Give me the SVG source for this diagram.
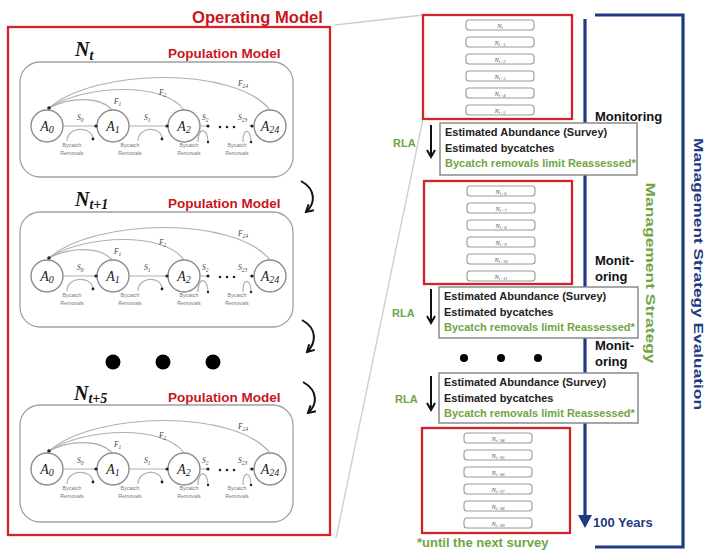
<svg xmlns="http://www.w3.org/2000/svg" width="707" height="550" viewBox="0 0 707 550">
<defs>
<style>
.redbox{fill:none;stroke:#d2232a;stroke-width:2.3}
.redtitle{font-family:"Liberation Sans",Arial,sans-serif;font-weight:bold;fill:#c8161e}
.pmframe{fill:#fff;stroke:#a0a0a0;stroke-width:1.3}
.age{fill:#fff;stroke:#8c8c8c;stroke-width:1.4}
.arc{fill:none;stroke:#b0b0b0;stroke-width:1.2}
.dot{fill:#222}
.alabel{font-family:"Liberation Serif",serif;font-style:italic;font-size:14px;fill:#222}
.small{font-family:"Liberation Serif",serif;font-style:italic;font-size:7.5px;fill:#444}
.byc{font-family:"Liberation Sans",Arial,sans-serif;font-size:5.3px;fill:#777}
.nlabel{font-family:"Liberation Serif",serif;font-style:italic;font-weight:bold;font-size:20px;fill:#111}
.bend{fill:none;stroke:#111;stroke-width:2}
.bigdot{fill:#000}
.nbox{fill:#fff;stroke:#9a9a9a;stroke-width:1.1}
.ntext{font-family:"Liberation Serif",serif;font-style:italic;font-size:6.5px;fill:#555}
.rlabox{fill:#fff;stroke:#8a8a8a;stroke-width:1.5}
.rlat{font-family:"Liberation Sans",Arial,sans-serif;font-weight:bold;font-size:11px;fill:#222}
.navyline{fill:none;stroke:#1f3a82;stroke-width:3.2}
.ghost{fill:none;stroke:#cfcfcf;stroke-width:1.4}
.mon{font-family:"Liberation Sans",Arial,sans-serif;font-weight:bold;font-size:13px;fill:#111}
.green{fill:#6fa542}
.navy{fill:#1f3a82}
</style>
<marker id="chev" viewBox="0 0 10 10" refX="8" refY="5" markerWidth="5" markerHeight="5" orient="auto">
<path d="M1,1 L8,5 L1,9" fill="none" stroke="#111" stroke-width="2"/>
</marker>
</defs>
<rect x="0" y="0" width="707" height="550" fill="#fff"/>

<!-- zoom guide lines -->
<g id="guides">
<line class="ghost" x1="335" y1="25" x2="423" y2="15"/>
<line class="ghost" x1="336" y1="538" x2="423" y2="119"/>
</g>

<!-- Operating model frame -->
<g id="operating-model">
<rect class="redbox" x="8" y="27" width="322" height="508"/>
<text class="redtitle" x="192" y="23" font-size="16.6">Operating Model</text>
</g>

<!-- Population model N_t -->
<g id="pop-model-t">
<text class="nlabel" x="75" y="56">N<tspan font-size="14" dy="4">t</tspan></text>
<text class="redtitle" x="168" y="58" font-size="13.5">Population Model</text>
<rect class="pmframe" x="20" y="62" width="273" height="115" rx="20"/>
<path class="arc" d="M49,108 C70,97 100,96 112,110"/>
<path class="arc" d="M49,108 C85,84 165,82 184,110"/>
<path class="arc" d="M49,108 C95,68 235,66 270,110"/>
<circle class="dot" cx="49" cy="108" r="1.8"/>
<text class="small" x="114" y="104">F<tspan font-size="5.5" dy="2">1</tspan></text>
<text class="small" x="159" y="95">F<tspan font-size="5.5" dy="2">2</tspan></text>
<text class="small" x="238" y="86">F<tspan font-size="5.5" dy="2">24</tspan></text>
<circle class="age" cx="47" cy="126" r="16"/>
<circle class="age" cx="113" cy="126" r="16"/>
<circle class="age" cx="184" cy="126" r="16"/>
<circle class="age" cx="270" cy="126" r="16"/>
<text class="alabel" x="47" y="131" text-anchor="middle">A<tspan font-size="10" dy="2">0</tspan></text>
<text class="alabel" x="113" y="131" text-anchor="middle">A<tspan font-size="10" dy="2">1</tspan></text>
<text class="alabel" x="184" y="131" text-anchor="middle">A<tspan font-size="10" dy="2">2</tspan></text>
<text class="alabel" x="270" y="131" text-anchor="middle">A<tspan font-size="10" dy="2">24</tspan></text>
<path class="arc" d="M63,126 H96 M129,126 H167 M200,126 H208 M249,126 H254"/>
<circle class="dot" cx="96" cy="126" r="1.6"/>
<circle class="dot" cx="167" cy="126" r="1.6"/>
<circle class="dot" cx="208" cy="126" r="1.6"/>
<circle class="dot" cx="252" cy="126" r="1.6"/>
<text class="small" x="77" y="120">S<tspan font-size="5.5" dy="2">0</tspan></text>
<text class="small" x="144" y="120">S<tspan font-size="5.5" dy="2">1</tspan></text>
<text class="small" x="202" y="120">S<tspan font-size="5.5" dy="2">2</tspan></text>
<text class="small" x="238" y="120">S<tspan font-size="5.5" dy="2">23</tspan></text>
<circle class="dot" cx="220" cy="127" r="1.3"/><circle class="dot" cx="227" cy="127" r="1.3"/><circle class="dot" cx="234" cy="127" r="1.3"/>
<path class="arc" d="M67,141 C67,127 90,125 93,138 M138,141 C138,127 160,125 162,138 M198,142 C198,127 207,127 208,141 M243,142 C243,128 250,128 251,141"/>
<circle class="dot" cx="93" cy="139" r="1.4"/>
<circle class="dot" cx="162" cy="139" r="1.4"/>
<circle class="dot" cx="208" cy="142" r="1.2"/>
<circle class="dot" cx="251" cy="142" r="1.2"/>
<text class="byc" x="72" y="147" text-anchor="middle">Bycatch</text><text class="byc" x="72" y="155" text-anchor="middle">Removals</text>
<text class="byc" x="130" y="147" text-anchor="middle">Bycatch</text><text class="byc" x="130" y="155" text-anchor="middle">Removals</text>
<text class="byc" x="189" y="147" text-anchor="middle">Bycatch</text><text class="byc" x="189" y="155" text-anchor="middle">Removals</text>
<text class="byc" x="237" y="147" text-anchor="middle">Bycatch</text><text class="byc" x="237" y="155" text-anchor="middle">Removals</text>
</g>

<!-- Population model N_t+1 -->
<g id="pop-model-t1" transform="translate(0,150)">
<text class="nlabel" x="75" y="56">N<tspan font-size="14" dy="3">t+1</tspan></text>
<text class="redtitle" x="168" y="58" font-size="13.5">Population Model</text>
<rect class="pmframe" x="20" y="62" width="273" height="115" rx="20"/>
<path class="arc" d="M49,108 C70,97 100,96 112,110"/>
<path class="arc" d="M49,108 C85,84 165,82 184,110"/>
<path class="arc" d="M49,108 C95,68 235,66 270,110"/>
<circle class="dot" cx="49" cy="108" r="1.8"/>
<text class="small" x="114" y="104">F<tspan font-size="5.5" dy="2">1</tspan></text>
<text class="small" x="159" y="95">F<tspan font-size="5.5" dy="2">2</tspan></text>
<text class="small" x="238" y="86">F<tspan font-size="5.5" dy="2">24</tspan></text>
<circle class="age" cx="47" cy="126" r="16"/>
<circle class="age" cx="113" cy="126" r="16"/>
<circle class="age" cx="184" cy="126" r="16"/>
<circle class="age" cx="270" cy="126" r="16"/>
<text class="alabel" x="47" y="131" text-anchor="middle">A<tspan font-size="10" dy="2">0</tspan></text>
<text class="alabel" x="113" y="131" text-anchor="middle">A<tspan font-size="10" dy="2">1</tspan></text>
<text class="alabel" x="184" y="131" text-anchor="middle">A<tspan font-size="10" dy="2">2</tspan></text>
<text class="alabel" x="270" y="131" text-anchor="middle">A<tspan font-size="10" dy="2">24</tspan></text>
<path class="arc" d="M63,126 H96 M129,126 H167 M200,126 H208 M249,126 H254"/>
<circle class="dot" cx="96" cy="126" r="1.6"/>
<circle class="dot" cx="167" cy="126" r="1.6"/>
<circle class="dot" cx="208" cy="126" r="1.6"/>
<circle class="dot" cx="252" cy="126" r="1.6"/>
<text class="small" x="77" y="120">S<tspan font-size="5.5" dy="2">0</tspan></text>
<text class="small" x="144" y="120">S<tspan font-size="5.5" dy="2">1</tspan></text>
<text class="small" x="202" y="120">S<tspan font-size="5.5" dy="2">2</tspan></text>
<text class="small" x="238" y="120">S<tspan font-size="5.5" dy="2">23</tspan></text>
<circle class="dot" cx="220" cy="127" r="1.3"/><circle class="dot" cx="227" cy="127" r="1.3"/><circle class="dot" cx="234" cy="127" r="1.3"/>
<path class="arc" d="M67,141 C67,127 90,125 93,138 M138,141 C138,127 160,125 162,138 M198,142 C198,127 207,127 208,141 M243,142 C243,128 250,128 251,141"/>
<circle class="dot" cx="93" cy="139" r="1.4"/>
<circle class="dot" cx="162" cy="139" r="1.4"/>
<circle class="dot" cx="208" cy="142" r="1.2"/>
<circle class="dot" cx="251" cy="142" r="1.2"/>
<text class="byc" x="72" y="147" text-anchor="middle">Bycatch</text><text class="byc" x="72" y="155" text-anchor="middle">Removals</text>
<text class="byc" x="130" y="147" text-anchor="middle">Bycatch</text><text class="byc" x="130" y="155" text-anchor="middle">Removals</text>
<text class="byc" x="189" y="147" text-anchor="middle">Bycatch</text><text class="byc" x="189" y="155" text-anchor="middle">Removals</text>
<text class="byc" x="237" y="147" text-anchor="middle">Bycatch</text><text class="byc" x="237" y="155" text-anchor="middle">Removals</text>
</g>

<!-- Population model N_t+5 -->
<g id="pop-model-t5" transform="translate(0,343)">
<text class="nlabel" x="74" y="57">N<tspan font-size="14" dy="3">t+5</tspan></text>
<text class="redtitle" x="168" y="59" font-size="13.5">Population Model</text>
<rect class="pmframe" x="20" y="62" width="273" height="117" rx="20"/>
<path class="arc" d="M49,108 C70,97 100,96 112,110"/>
<path class="arc" d="M49,108 C85,84 165,82 184,110"/>
<path class="arc" d="M49,108 C95,68 235,66 270,110"/>
<circle class="dot" cx="49" cy="108" r="1.8"/>
<text class="small" x="114" y="104">F<tspan font-size="5.5" dy="2">1</tspan></text>
<text class="small" x="159" y="95">F<tspan font-size="5.5" dy="2">2</tspan></text>
<text class="small" x="238" y="86">F<tspan font-size="5.5" dy="2">24</tspan></text>
<circle class="age" cx="47" cy="126" r="16"/>
<circle class="age" cx="113" cy="126" r="16"/>
<circle class="age" cx="184" cy="126" r="16"/>
<circle class="age" cx="270" cy="126" r="16"/>
<text class="alabel" x="47" y="131" text-anchor="middle">A<tspan font-size="10" dy="2">0</tspan></text>
<text class="alabel" x="113" y="131" text-anchor="middle">A<tspan font-size="10" dy="2">1</tspan></text>
<text class="alabel" x="184" y="131" text-anchor="middle">A<tspan font-size="10" dy="2">2</tspan></text>
<text class="alabel" x="270" y="131" text-anchor="middle">A<tspan font-size="10" dy="2">24</tspan></text>
<path class="arc" d="M63,126 H96 M129,126 H167 M200,126 H208 M249,126 H254"/>
<circle class="dot" cx="96" cy="126" r="1.6"/>
<circle class="dot" cx="167" cy="126" r="1.6"/>
<circle class="dot" cx="208" cy="126" r="1.6"/>
<circle class="dot" cx="252" cy="126" r="1.6"/>
<text class="small" x="77" y="120">S<tspan font-size="5.5" dy="2">0</tspan></text>
<text class="small" x="144" y="120">S<tspan font-size="5.5" dy="2">1</tspan></text>
<text class="small" x="202" y="120">S<tspan font-size="5.5" dy="2">2</tspan></text>
<text class="small" x="238" y="120">S<tspan font-size="5.5" dy="2">23</tspan></text>
<circle class="dot" cx="220" cy="127" r="1.3"/><circle class="dot" cx="227" cy="127" r="1.3"/><circle class="dot" cx="234" cy="127" r="1.3"/>
<path class="arc" d="M67,141 C67,127 90,125 93,138 M138,141 C138,127 160,125 162,138 M198,142 C198,127 207,127 208,141 M243,142 C243,128 250,128 251,141"/>
<circle class="dot" cx="93" cy="139" r="1.4"/>
<circle class="dot" cx="162" cy="139" r="1.4"/>
<circle class="dot" cx="208" cy="142" r="1.2"/>
<circle class="dot" cx="251" cy="142" r="1.2"/>
<text class="byc" x="72" y="147" text-anchor="middle">Bycatch</text><text class="byc" x="72" y="155" text-anchor="middle">Removals</text>
<text class="byc" x="130" y="147" text-anchor="middle">Bycatch</text><text class="byc" x="130" y="155" text-anchor="middle">Removals</text>
<text class="byc" x="189" y="147" text-anchor="middle">Bycatch</text><text class="byc" x="189" y="155" text-anchor="middle">Removals</text>
<text class="byc" x="237" y="147" text-anchor="middle">Bycatch</text><text class="byc" x="237" y="155" text-anchor="middle">Removals</text>
</g>

<!-- ellipsis dots left -->
<g id="left-dots">
<circle class="bigdot" cx="113" cy="362" r="7.5"/>
<circle class="bigdot" cx="163" cy="362" r="7.5"/>
<circle class="bigdot" cx="213" cy="362" r="7.5"/>
</g>

<!-- connectors -->
<g id="connectors">
<path class="bend" d="M301,181 C317,190 315,204 306,212" marker-end="url(#chev)"/>
<path class="bend" d="M302,320 C318,329 316,343 307,352" marker-end="url(#chev)"/>
<path class="bend" d="M303,382 C319,391 317,405 308,413" marker-end="url(#chev)"/>
<line class="bend" x1="431" y1="125" x2="431" y2="157" marker-end="url(#chev)"/>
<line class="bend" x1="431" y1="289" x2="431" y2="323" marker-end="url(#chev)"/>
<line class="bend" x1="431" y1="376" x2="431" y2="410" marker-end="url(#chev)"/>
<line class="navyline" x1="585" y1="19" x2="585" y2="516"/>
<polygon class="navy" points="578,515 592,515 585,528"/>
<polyline class="navyline" points="595,15 683,15 683,547 595,547"/>
</g>

<!-- right red boxes -->
<g id="years-1-6">
<rect class="redbox" x="423" y="15" width="149" height="104"/>
<rect class="nbox" x="466" y="20" width="68" height="10" rx="3"/><text class="ntext" x="500" y="27.5" text-anchor="middle">N<tspan font-size="4.5" dy="1">t</tspan></text>
<rect class="nbox" x="466" y="37" width="68" height="10" rx="3"/><text class="ntext" x="500" y="44.5" text-anchor="middle">N<tspan font-size="4.5" dy="1">t+1</tspan></text>
<rect class="nbox" x="466" y="54" width="68" height="10" rx="3"/><text class="ntext" x="500" y="61.5" text-anchor="middle">N<tspan font-size="4.5" dy="1">t+2</tspan></text>
<rect class="nbox" x="466" y="71" width="68" height="10" rx="3"/><text class="ntext" x="500" y="78.5" text-anchor="middle">N<tspan font-size="4.5" dy="1">t+3</tspan></text>
<rect class="nbox" x="466" y="88" width="68" height="10" rx="3"/><text class="ntext" x="500" y="95.5" text-anchor="middle">N<tspan font-size="4.5" dy="1">t+4</tspan></text>
<rect class="nbox" x="466" y="105" width="68" height="10" rx="3"/><text class="ntext" x="500" y="112.5" text-anchor="middle">N<tspan font-size="4.5" dy="1">t+5</tspan></text>
</g>
<g id="years-7-12">
<rect class="redbox" x="424" y="181" width="148" height="103"/>
<rect class="nbox" x="467" y="186" width="68" height="10" rx="3"/><text class="ntext" x="501" y="193.5" text-anchor="middle">N<tspan font-size="4.5" dy="1">t+6</tspan></text>
<rect class="nbox" x="467" y="203" width="68" height="10" rx="3"/><text class="ntext" x="501" y="210.5" text-anchor="middle">N<tspan font-size="4.5" dy="1">t+7</tspan></text>
<rect class="nbox" x="467" y="220" width="68" height="10" rx="3"/><text class="ntext" x="501" y="227.5" text-anchor="middle">N<tspan font-size="4.5" dy="1">t+8</tspan></text>
<rect class="nbox" x="467" y="237" width="68" height="10" rx="3"/><text class="ntext" x="501" y="244.5" text-anchor="middle">N<tspan font-size="4.5" dy="1">t+9</tspan></text>
<rect class="nbox" x="467" y="254" width="68" height="10" rx="3"/><text class="ntext" x="501" y="261.5" text-anchor="middle">N<tspan font-size="4.5" dy="1">t+10</tspan></text>
<rect class="nbox" x="467" y="271" width="68" height="10" rx="3"/><text class="ntext" x="501" y="278.5" text-anchor="middle">N<tspan font-size="4.5" dy="1">t+11</tspan></text>
</g>
<g id="years-95-100">
<rect class="redbox" x="422" y="428" width="148" height="105"/>
<rect class="nbox" x="464" y="433" width="68" height="10" rx="3"/><text class="ntext" x="498" y="440.5" text-anchor="middle">N<tspan font-size="4.5" dy="1">t+94</tspan></text>
<rect class="nbox" x="464" y="450" width="68" height="10" rx="3"/><text class="ntext" x="498" y="457.5" text-anchor="middle">N<tspan font-size="4.5" dy="1">t+95</tspan></text>
<rect class="nbox" x="464" y="467" width="68" height="10" rx="3"/><text class="ntext" x="498" y="474.5" text-anchor="middle">N<tspan font-size="4.5" dy="1">t+96</tspan></text>
<rect class="nbox" x="464" y="484" width="68" height="10" rx="3"/><text class="ntext" x="498" y="491.5" text-anchor="middle">N<tspan font-size="4.5" dy="1">t+97</tspan></text>
<rect class="nbox" x="464" y="501" width="68" height="10" rx="3"/><text class="ntext" x="498" y="508.5" text-anchor="middle">N<tspan font-size="4.5" dy="1">t+98</tspan></text>
<rect class="nbox" x="464" y="518" width="68" height="10" rx="3"/><text class="ntext" x="498" y="525.5" text-anchor="middle">N<tspan font-size="4.5" dy="1">t+99</tspan></text>
</g>

<!-- RLA boxes -->
<g id="rla-1">
<rect class="rlabox" x="440" y="123" width="197" height="52"/>
<text class="rlat" x="445" y="136">Estimated Abundance (Survey)</text>
<text class="rlat" x="445" y="152">Estimated bycatches</text>
<text class="rlat green" x="445" y="167">Bycatch removals limit Reassessed*</text>
<text class="rlat green" x="393" y="147">RLA</text>
</g>
<g id="rla-2">
<rect class="rlabox" x="439" y="287" width="199" height="51"/>
<text class="rlat" x="444" y="300">Estimated Abundance (Survey)</text>
<text class="rlat" x="444" y="316">Estimated bycatches</text>
<text class="rlat green" x="444" y="331">Bycatch removals limit Reassessed*</text>
<text class="rlat green" x="392" y="317">RLA</text>
</g>
<g id="rla-3">
<rect class="rlabox" x="439" y="373" width="199" height="50"/>
<text class="rlat" x="444" y="386">Estimated Abundance (Survey)</text>
<text class="rlat" x="444" y="402">Estimated bycatches</text>
<text class="rlat green" x="444" y="417">Bycatch removals limit Reassessed*</text>
<text class="rlat green" x="395" y="403">RLA</text>
</g>

<g id="right-dots">
<circle class="bigdot" cx="464" cy="358" r="4"/>
<circle class="bigdot" cx="501" cy="358" r="4"/>
<circle class="bigdot" cx="538" cy="358" r="4"/>
</g>

<g id="monitoring-labels">
<text class="mon" x="595" y="121">Monitoring</text>
<text class="mon" x="595" y="265">Monit-</text>
<text class="mon" x="595" y="281">oring</text>
<text class="mon" x="595" y="350">Monit-</text>
<text class="mon" x="595" y="366">oring</text>
<text class="mon navy" x="593" y="527" font-size="12">100 Years</text>
<text class="mon green" x="417" y="547" font-size="12">*until the next survey</text>
</g>

<g id="strategy-labels">
<text class="mon green" font-size="16" transform="translate(646,273) rotate(90)" text-anchor="middle" textLength="181" lengthAdjust="spacingAndGlyphs">Management Strategy</text>
<text class="mon navy" font-size="14.5" transform="translate(694,274) rotate(90)" text-anchor="middle" textLength="272" lengthAdjust="spacingAndGlyphs">Management Strategy Evaluation</text>
</g>
</svg>
